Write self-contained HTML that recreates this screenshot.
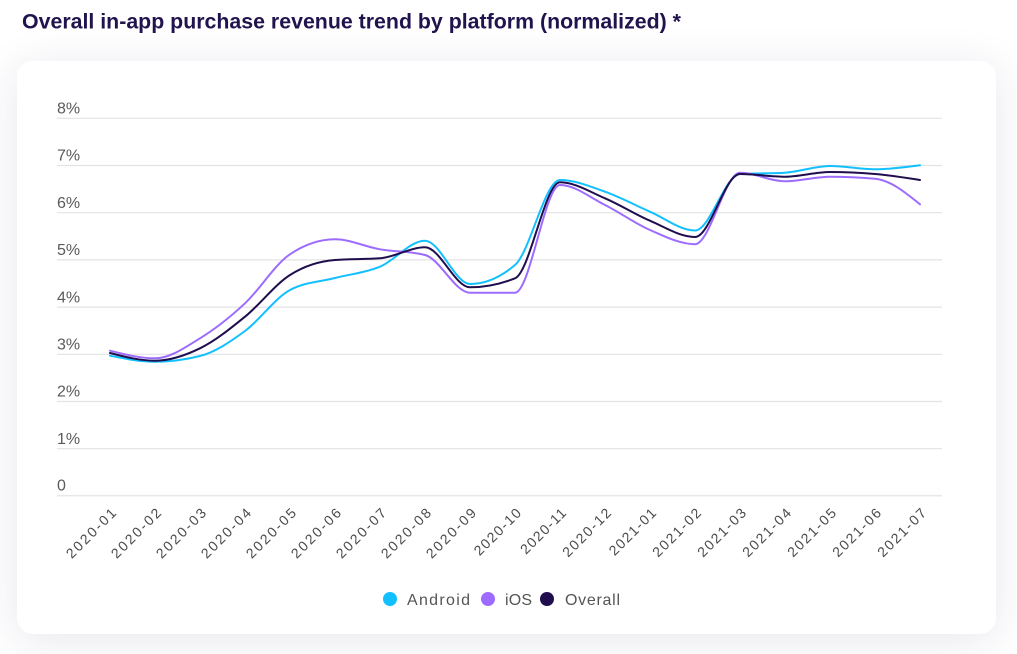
<!DOCTYPE html>
<html>
<head>
<meta charset="utf-8">
<style>
  html, body { margin:0; padding:0; background:#ffffff; }
  body { width:1017px; height:654px; position:relative; overflow:hidden; font-family:"Liberation Sans", sans-serif; }
  .card { position:absolute; left:17px; top:61px; width:979px; height:573px; background:#fff; border-radius:16px;
          box-shadow: 0 6px 44px rgba(40,30,80,0.11); }
  svg { position:absolute; left:0; top:0; }
</style>
</head>
<body>
<div class="card"></div>
<svg width="1017" height="654" viewBox="0 0 1017 654" xmlns="http://www.w3.org/2000/svg" font-family="Liberation Sans, sans-serif">
  <!-- Title -->
  <text x="22" y="28.5" font-size="21" font-weight="bold" fill="#21134d" textLength="659" lengthAdjust="spacingAndGlyphs">Overall in-app purchase revenue trend by platform (normalized) *</text>

  <!-- Gridlines -->
  <g stroke="#e3e3e3" stroke-width="1.2">
    <line x1="57" y1="118.3" x2="942" y2="118.3"/>
    <line x1="57" y1="165.5" x2="942" y2="165.5"/>
    <line x1="57" y1="212.7" x2="942" y2="212.7"/>
    <line x1="57" y1="259.9" x2="942" y2="259.9"/>
    <line x1="57" y1="307.1" x2="942" y2="307.1"/>
    <line x1="57" y1="354.3" x2="942" y2="354.3"/>
    <line x1="57" y1="401.5" x2="942" y2="401.5"/>
    <line x1="57" y1="448.7" x2="942" y2="448.7"/>
    <line x1="57" y1="495.7" x2="942" y2="495.7" stroke="#e8e8e8" stroke-width="1.6"/>
  </g>

  <!-- Y labels -->
  <g font-size="16" fill="#5a5a5a">
    <text x="57" y="113.5">8%</text>
    <text x="57" y="160.7">7%</text>
    <text x="57" y="207.9">6%</text>
    <text x="57" y="255.1">5%</text>
    <text x="57" y="302.3">4%</text>
    <text x="57" y="349.5">3%</text>
    <text x="57" y="396.7">2%</text>
    <text x="57" y="443.9">1%</text>
    <text x="57" y="490.7">0</text>
  </g>

  <!-- X labels -->
  <g font-size="14" fill="#4a4a4a" text-anchor="end">
    <text transform="translate(117,514) rotate(-45)" textLength="64">2020-01</text>
    <text transform="translate(162,514) rotate(-45)" textLength="64">2020-02</text>
    <text transform="translate(207,514) rotate(-45)" textLength="64">2020-03</text>
    <text transform="translate(252,514) rotate(-45)" textLength="64">2020-04</text>
    <text transform="translate(297,514) rotate(-45)" textLength="64">2020-05</text>
    <text transform="translate(342,514) rotate(-45)" textLength="64">2020-06</text>
    <text transform="translate(387,514) rotate(-45)" textLength="64">2020-07</text>
    <text transform="translate(432,514) rotate(-45)" textLength="64">2020-08</text>
    <text transform="translate(477,514) rotate(-45)" textLength="64">2020-09</text>
    <text transform="translate(522,514) rotate(-45)" textLength="60">2020-10</text>
    <text transform="translate(567,514) rotate(-45)" textLength="58">2020-11</text>
    <text transform="translate(612,514) rotate(-45)" textLength="62">2020-12</text>
    <text transform="translate(657,514) rotate(-45)" textLength="60">2021-01</text>
    <text transform="translate(702,514) rotate(-45)" textLength="62">2021-02</text>
    <text transform="translate(747,514) rotate(-45)" textLength="62">2021-03</text>
    <text transform="translate(792,514) rotate(-45)" textLength="62">2021-04</text>
    <text transform="translate(837,514) rotate(-45)" textLength="62">2021-05</text>
    <text transform="translate(882,514) rotate(-45)" textLength="62">2021-06</text>
    <text transform="translate(927,514) rotate(-45)" textLength="62">2021-07</text>
  </g>

  <!-- Series -->
  <g fill="none" stroke-width="2" stroke-linejoin="round" stroke-linecap="round">
    <!-- Android -->
    <path stroke="#12c0ff" d="M110,355.7 C125,358.7 140,361.7 155,361.7 C170,361.7 185,359.8 200,356 C215,352.2 230,342 245,331 C260,320 275,298 290,290 C305,282 320,281.9 335,278 C350,274.1 365,272.9 380,266.7 C395,260.5 410,240.7 425,240.7 C440,240.7 455,284 470,284 C485,284 500,277.7 515,265 C530,252.3 545,180 560,180 C575,180 590,186.4 605,191.7 C620,197 635,205.2 650,211.7 C665,218.2 680,230.5 695,230.5 C710,230.5 725,174.9 740,174 C755,173.1 770,173.6 785,172.7 C800,171.8 815,166 830,166 C845,166 860,169.3 875,169.3 C890,169.3 905,167.3 920,165.3"/>
    <!-- iOS -->
    <path stroke="#9d6cff" d="M110,350.7 C125,354.5 140,358.3 155,358.3 C170,358.3 185,347.5 200,338.3 C215,329.1 230,317.3 245,303.3 C260,289.3 275,264.3 290,254.3 C305,244.3 320,239.3 335,239.3 C350,239.3 365,246.7 380,249.3 C395,251.9 410,251.2 425,255 C440,258.8 455,292.7 470,292.7 C485,292.7 500,292.7 515,292.7 C530,292.7 545,185 560,185 C575,185 590,197.5 605,205 C620,212.5 635,223.5 650,230 C665,236.5 680,244.2 695,244.2 C710,244.2 725,172.7 740,172.7 C755,172.7 770,181.3 785,181.3 C800,181.3 815,176.7 830,176.7 C845,176.7 860,177.4 875,178.7 C890,180 905,192.2 920,204.3"/>
    <!-- Overall -->
    <path stroke="#1f0d4d" d="M110,353 C125,356.9 140,360.7 155,360.7 C170,360.7 185,355.6 200,348.3 C215,341 230,328.9 245,316.7 C260,304.5 275,284.5 290,275 C305,265.5 320,261.1 335,260 C350,258.9 365,259.4 380,258.3 C395,257.2 410,247.3 425,247.3 C440,247.3 455,287.3 470,287.3 C485,287.3 500,284.3 515,278.3 C530,272.3 545,182.3 560,182.3 C575,182.3 590,191.9 605,198.3 C620,204.7 635,214.3 650,220.7 C665,227.2 680,237 695,237 C710,237 725,174 740,174 C755,174 770,176.7 785,176.7 C800,176.7 815,172 830,172 C845,172 860,172.7 875,174 C890,175.3 905,177.7 920,180"/>
  </g>

  <!-- Legend -->
  <g font-size="16" fill="#555555">
    <circle cx="390" cy="599" r="7" fill="#12c0ff"/>
    <text x="407" y="605" textLength="63">Android</text>
    <circle cx="488" cy="599" r="7" fill="#9d6cff"/>
    <text x="505" y="605" textLength="27">iOS</text>
    <circle cx="547" cy="599" r="7" fill="#1f0d4d"/>
    <text x="565" y="605" textLength="55">Overall</text>
  </g>
</svg>
</body>
</html>
